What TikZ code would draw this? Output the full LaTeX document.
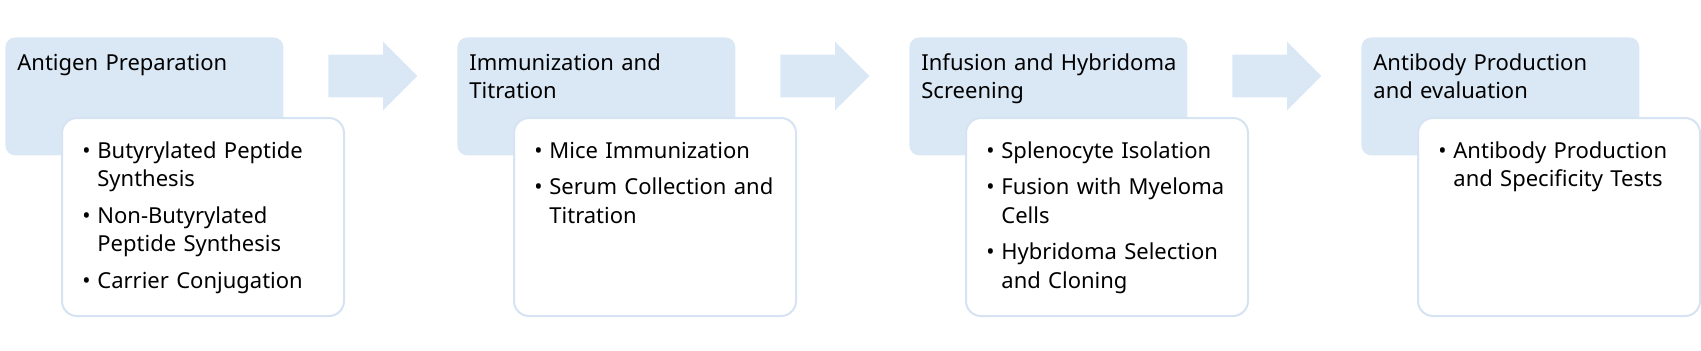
\documentclass[tikz,border=0pt]{standalone}
\usepackage{fontspec}
\setmainfont{Noto Sans}
\usetikzlibrary{shapes.arrows,positioning}
\definecolor{stepblue}{HTML}{DAE7F5}
\definecolor{edgeblue}{HTML}{D6E3F2}
\tikzset{
  stagebox/.style={fill=stepblue, rounded corners=5pt, minimum width=139pt, minimum height=59pt, inner sep=0pt, anchor=north west},
  detailbox/.style={draw=edgeblue, line width=1pt, fill=white, rounded corners=7.5pt, minimum width=141pt, minimum height=99pt, inner sep=0pt, anchor=north west},
  stagetext/.style={font=\fontsize{11}{14.25}\selectfont, text width=128pt, align=left, inner sep=0pt, anchor=base west},
  flowarrow/.style={single arrow, fill=stepblue, minimum height=44.5pt, minimum width=34pt, inner xsep=0pt, inner ysep=10.5pt, single arrow head extend=6.5pt, anchor=west}
}
\newcommand\bul{\makebox[7.5pt][l]{\textbullet}}
\newcommand\ind{\hspace*{7.5pt}}
\begin{document}
\begin{tikzpicture}[x=0.5pt,y=-0.5pt]
  \useasboundingbox (0,0) rectangle (1701,350);
  % stage boxes and arrows
  \node[stagebox] (stage1) at (5,37) {};
  \node[stagebox] (stage2) at (457,37) {};
  \node[stagebox] (stage3) at (909,37) {};
  \node[stagebox] (stage4) at (1361,37) {};
  \node[flowarrow] (arrow1) at (328,76) {};
  \node[flowarrow] (arrow2) at (780,76) {};
  \node[flowarrow] (arrow3) at (1232,76) {};
  % detail boxes
  \node[detailbox] (detail1) at ([shift={(56,80)}]stage1.north west) {};
  \node[detailbox] (detail2) at ([shift={(56,80)}]stage2.north west) {};
  \node[detailbox] (detail3) at ([shift={(56,80)}]stage3.north west) {};
  \node[detailbox] (detail4) at ([shift={(56,80)}]stage4.north west) {};
  % titles
  \node[stagetext] (title1) at ([shift={(12,33)}]stage1.north west) {Antigen Preparation};
  \node[stagetext] (title2) at ([shift={(12,33)}]stage2.north west) {Immunization and\\Titration};
  \node[stagetext] (title3) at ([shift={(12,33)}]stage3.north west) {Infusion and Hybridoma\\Screening};
  \node[stagetext] (title4) at ([shift={(12,33)}]stage4.north west) {Antibody Production\\and evaluation};
  % bullet lists
  \node[stagetext] (list1) at ([shift={(21,41)}]detail1.north west)
    {\bul Butyrylated Peptide\\\ind Synthesis\\[4pt]\bul Non-Butyrylated\\\ind Peptide Synthesis\\[4pt]\bul Carrier Conjugation};
  \node[stagetext] (list2) at ([shift={(21,41)}]detail2.north west)
    {\bul Mice Immunization\\[4pt]\bul Serum Collection and\\\ind Titration};
  \node[stagetext] (list3) at ([shift={(21,41)}]detail3.north west)
    {\bul Splenocyte Isolation\\[4pt]\bul Fusion with Myeloma\\\ind Cells\\[4pt]\bul Hybridoma Selection\\\ind and Cloning};
  \node[stagetext] (list4) at ([shift={(21,41)}]detail4.north west)
    {\bul Antibody Production\\\ind and Specificity Tests};
\end{tikzpicture}
\end{document}
